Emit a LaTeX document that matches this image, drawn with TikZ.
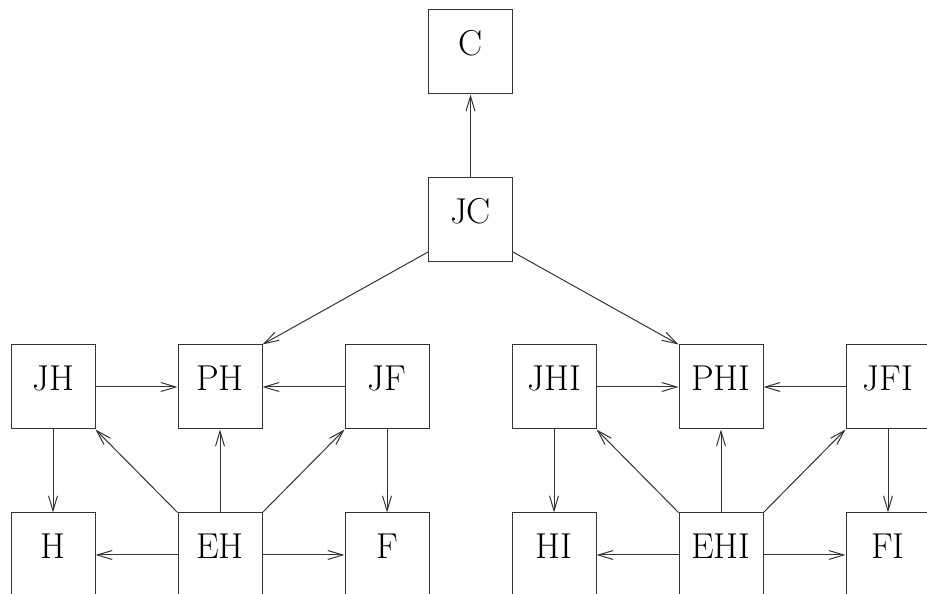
\documentclass[tikz,border=0pt]{standalone}
\usetikzlibrary{arrows.meta}
\begin{document}
\begin{tikzpicture}[x=1pt,y=1pt,
  box/.style={draw=black!80, line width=1pt, minimum size=84pt, inner sep=0pt,
    text height=0.68em, text depth=0pt, font=\fontsize{36}{40}\selectfont},
  link/.style={draw=black!80, line width=1pt, -{Straight Barb[length=15pt,width=9pt]}}]
\useasboundingbox (0,0) rectangle (927,594);
\clip (0,0) rectangle (927,594);

% top chain
\node[box] (C)  at (470.5,542) {C};
\node[box] (JC) at (470.5,374) {JC};

% left group
\node[box] (JH) at (53,207)  {JH};
\node[box] (PH) at (220,207) {PH};
\node[box] (JF) at (387,207) {JF};
\node[box] (H)  at (53,39)   {H};
\node[box] (EH) at (220,39)  {EH};
\node[box] (F)  at (387,39)  {F};

% right group
\node[box] (JHI) at (554,207) {JHI};
\node[box] (PHI) at (721,207) {PHI};
\node[box] (JFI) at (888,207) {JFI};
\node[box] (HI)  at (554,39)  {HI};
\node[box] (EHI) at (721,39)  {EHI};
\node[box] (FI)  at (888,39)  {FI};

\draw[link] (JC.north) -- (C.south);
\draw[link] (JC.217.3) -- (PH.north east);
\draw[link] (JC.-37.3) -- (PHI.north west);

% left group connectors
\draw[link] (JH.east) -- (PH.west);
\draw[link] (JF.west) -- (PH.east);
\draw[link] (JH.south) -- (H.north);
\draw[link] (JF.south) -- (F.north);
\draw[link] (EH.west) -- (H.east);
\draw[link] (EH.east) -- (F.west);
\draw[link] (EH.north west) -- (JH.south east);
\draw[link] (EH.north) -- (PH.south);
\draw[link] (EH.north east) -- (JF.south west);

% right group connectors
\draw[link] (JHI.east) -- (PHI.west);
\draw[link] (JFI.west) -- (PHI.east);
\draw[link] (JHI.south) -- (HI.north);
\draw[link] (JFI.south) -- (FI.north);
\draw[link] (EHI.west) -- (HI.east);
\draw[link] (EHI.east) -- (FI.west);
\draw[link] (EHI.north west) -- (JHI.south east);
\draw[link] (EHI.north) -- (PHI.south);
\draw[link] (EHI.north east) -- (JFI.south west);
\end{tikzpicture}
\end{document}
